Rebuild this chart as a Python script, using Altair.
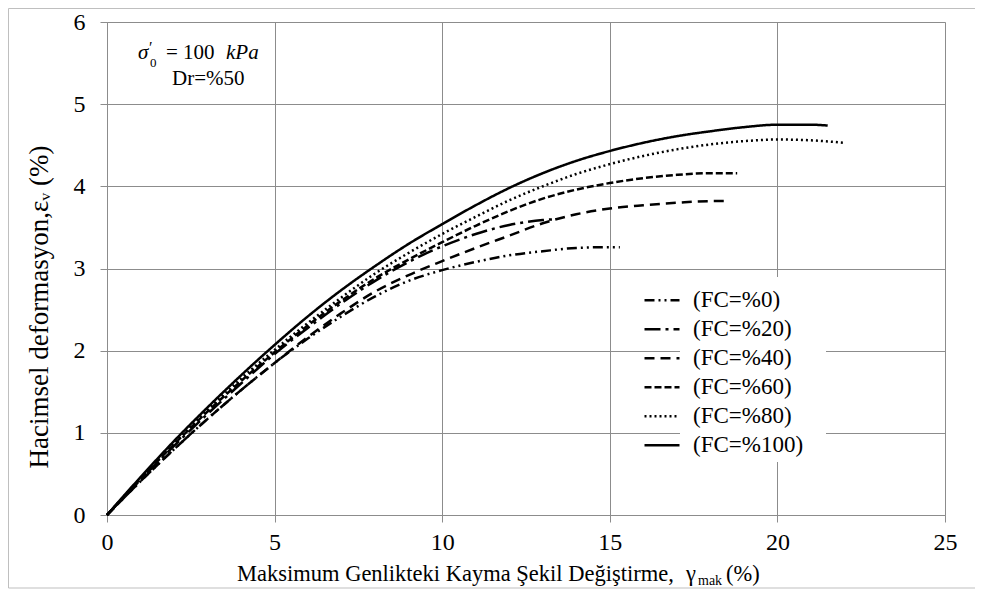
import altair as alt
import pandas as pd

labels = ["(FC=%0)", "(FC=%20)", "(FC=%40)", "(FC=%60)", "(FC=%80)", "(FC=%100)"]

x_fc0 = [0, 1, 2, 3, 4, 5, 6, 7, 8, 9, 10, 11, 12, 13, 14, 15, 15.3]
y_fc0 = [0, 0.41, 0.80, 1.17, 1.52, 1.85, 2.15, 2.42, 2.66, 2.85, 2.98, 3.08, 3.16, 3.21, 3.25, 3.26, 3.26]

x_fc20 = [0, 1, 2, 3, 4, 5, 6, 7, 8, 9, 10, 11, 12, 13, 13.4]
y_fc20 = [0, 0.43, 0.84, 1.23, 1.60, 1.96, 2.28, 2.58, 2.85, 3.08, 3.27, 3.42, 3.53, 3.59, 3.60]

x_fc40 = [0, 1, 2, 3, 4, 5, 6, 7, 8, 9, 10, 11, 12, 13, 14, 15, 16, 17, 18, 18.5]
y_fc40 = [0, 0.41, 0.80, 1.17, 1.52, 1.85, 2.17, 2.46, 2.72, 2.92, 3.09, 3.25, 3.40, 3.55, 3.66, 3.73, 3.77, 3.80, 3.82, 3.82]

x_fc60 = [0, 1, 2, 3, 4, 5, 6, 7, 8, 9, 10, 11, 12, 13, 14, 15, 16, 17, 18, 18.8]
y_fc60 = [0, 0.44, 0.86, 1.26, 1.63, 1.98, 2.31, 2.61, 2.88, 3.11, 3.32, 3.52, 3.70, 3.85, 3.96, 4.04, 4.10, 4.14, 4.16, 4.16]

x_fc80 = [0, 1, 2, 3, 4, 5, 6, 7, 8, 9, 10, 11, 12, 13, 14, 15, 16, 17, 18, 19, 20, 21, 22.0]
y_fc80 = [0, 0.45, 0.88, 1.28, 1.66, 2.01, 2.34, 2.65, 2.94, 3.19, 3.42, 3.63, 3.83, 4.00, 4.15, 4.27, 4.37, 4.45, 4.51, 4.55, 4.57, 4.56, 4.53]

x_fc100 = [0, 1, 2, 3, 4, 5, 6, 7, 8, 9, 10, 11, 12, 13, 14, 15, 16, 17, 18, 19, 20, 21, 21.5]
y_fc100 = [0, 0.46, 0.90, 1.31, 1.70, 2.07, 2.42, 2.74, 3.03, 3.30, 3.54, 3.77, 3.98, 4.16, 4.31, 4.43, 4.53, 4.61, 4.67, 4.72, 4.75, 4.75, 4.74]

x_ticks = [0, 5, 10, 15, 20, 25]
y_ticks = [0, 1, 2, 3, 4, 5, 6]

series_x = [x_fc0, x_fc20, x_fc40, x_fc60, x_fc80, x_fc100]
series_y = [y_fc0, y_fc20, y_fc40, y_fc60, y_fc80, y_fc100]

rows = []
for lab, xs, ys in zip(labels, series_x, series_y):
    for i, (xv, yv) in enumerate(zip(xs, ys)):
        rows.append({"series": lab, "x": xv, "y": yv, "order": i})
df = pd.DataFrame(rows)

dashes = [[10, 4, 2, 4, 2, 4], [16, 5, 3, 5], [10, 6], [7, 3], [2, 3], [1, 0]]

FONT = "Liberation Serif, Times New Roman, serif"
GRID = "#8c8c8c"
W, H = 838, 493

one = alt.Data(values=[{}])

legend_bg = alt.Chart(one).mark_rect(color="white").encode(
    x=alt.value(573), x2=alt.value(719), y=alt.value(255), y2=alt.value(440)
)

lines = alt.Chart(df).mark_line(color="black", strokeWidth=2.5, interpolate="monotone").encode(
    x=alt.X("x:Q", scale=alt.Scale(domain=[0, 25], nice=False),
            axis=alt.Axis(values=x_ticks, title=None, grid=True, gridColor=GRID,
                          domainColor=GRID, tickColor=GRID, tickSize=7,
                          labelFont=FONT, labelFontSize=24, labelColor="black",
                          labelPadding=8, labelFlush=False)),
    y=alt.Y("y:Q", scale=alt.Scale(domain=[0, 6], nice=False),
            axis=alt.Axis(values=y_ticks, title=None, grid=True, gridColor=GRID,
                          domainColor=GRID, tickColor=GRID, tickSize=7,
                          labelFont=FONT, labelFontSize=24, labelColor="black",
                          labelPadding=15, labelFlush=False)),
    strokeDash=alt.StrokeDash("series:N",
                              scale=alt.Scale(domain=labels, range=dashes),
                              legend=alt.Legend(title=None, orient="none", legendX=536, legendY=264,
                                                symbolType="stroke", symbolSize=1225,
                                                symbolStrokeWidth=2.5, symbolStrokeColor="black",
                                                labelFont=FONT, labelFontSize=23, labelColor="black",
                                                labelOffset=12, rowPadding=0, clipHeight=28.5,
                                                padding=0)),
    order="order:Q",
)

def txt(s, x, y, size=20, style="normal", align="left", angle=0, baseline="alphabetic"):
    return alt.Chart(one).mark_text(text=s, font=FONT, fontSize=size, fontStyle=style,
                                    align=align, baseline=baseline, angle=angle,
                                    color="black").encode(x=alt.value(x), y=alt.value(y))

texts = [
    txt("Maksimum Genlikteki Kayma Şekil Değiştirme,", 130, 559, size=22.5),
    txt("γ", 579, 559, size=22.5),
    txt("mak", 591, 563, size=14),
    txt("(%)", 619, 559, size=22.5),
    txt("Hacimsel deformasyon,εᵥ (%)", -67, 285, size=27, angle=270, align="center", baseline="middle"),
    txt("σ", 31, 37, size=21, style="italic"),
    txt("′", 42, 31, size=16),
    txt("0", 43, 45, size=13),
    txt("= 100", 59, 37, size=21),
    txt("kPa", 119, 37, size=21, style="italic"),
    txt("Dr=%50", 65, 63, size=21),
]

border = [
    alt.Chart(one).mark_rule(color="#bfbfbf", strokeWidth=1).encode(
        x=alt.value(-98.5), y=alt.value(-13.5), y2=alt.value(566)),
    alt.Chart(one).mark_rule(color="#bfbfbf", strokeWidth=1).encode(
        x=alt.value(-98.5), x2=alt.value(868), y=alt.value(-13.5)),
    alt.Chart(one).mark_rule(color="#bfbfbf", strokeWidth=1).encode(
        x=alt.value(-98.5), x2=alt.value(868), y=alt.value(566)),
]

chart = alt.layer(legend_bg, lines, *texts, *border).properties(
    width=W, height=H,
    autosize=alt.AutoSizeParams(type="none"),
    padding={"left": 99, "top": 14, "right": 30, "bottom": 74},
).configure_view(stroke=None).configure(background="white")

chart.save("out.html", embed_options={"renderer": "svg", "actions": False})
